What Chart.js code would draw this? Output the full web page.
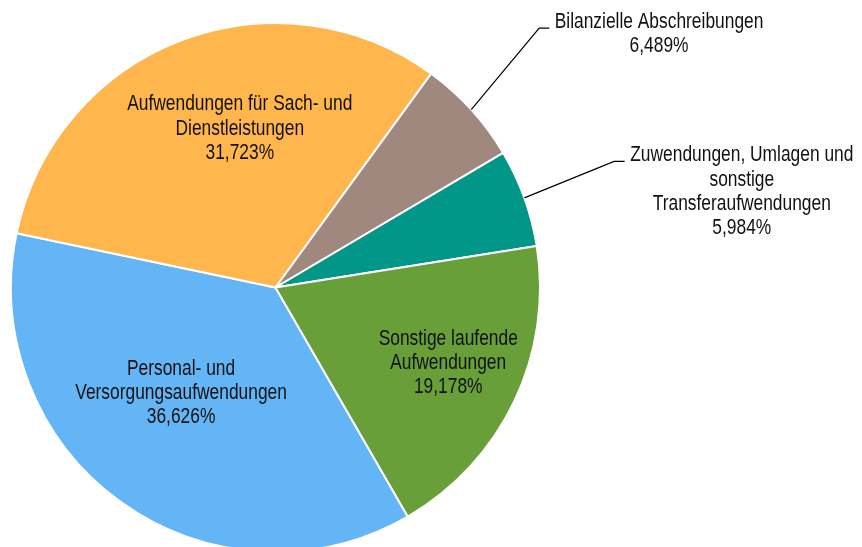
<!DOCTYPE html>
<html>
<head>
<meta charset="utf-8">
<script src="https://cdn.jsdelivr.net/npm/chart.js@4/dist/chart.umd.min.js"></script>
<style>
  html, body { margin: 0; padding: 0; background: #fff; overflow: hidden; }
  #wrap { position: relative; width: 862px; height: 560px; }
</style>
</head>
<body>
<div id="wrap"><canvas id="c"></canvas></div>
<script>
// ---- data ----
const categories = [
  "Personal- und Versorgungsaufwendungen",
  "Aufwendungen für Sach- und Dienstleistungen",
  "Bilanzielle Abschreibungen",
  "Zuwendungen, Umlagen und sonstige Transferaufwendungen",
  "Sonstige laufende Aufwendungen"
];
const shares = [36.626, 31.723, 6.489, 5.984, 19.178];
const labelLines = [
  ["Personal- und", "Versorgungsaufwendungen"],
  ["Aufwendungen für Sach- und", "Dienstleistungen"],
  ["Bilanzielle Abschreibungen"],
  ["Zuwendungen, Umlagen und", "sonstige", "Transferaufwendungen"],
  ["Sonstige laufende", "Aufwendungen"]
];
const colors = ["#64B5F6", "#FFB74D", "#A1887F", "#009688", "#689F38"];

// label placement (relative to pie centre, in units of radius)
const labelPlacement = [
  { inside: true, dx: -0.357, dy: 0.399 },
  { inside: true, dx: -0.135, dy: -0.601 },
  { inside: false, dx: 1.450, dy: -0.959, elbowX: 0.997, elbowY: -0.981, endX: 1.035 },
  { inside: false, dx: 1.763, dy: -0.362, elbowX: 1.280, elbowY: -0.477, endX: 1.320 },
  { inside: true, dx: 0.653, dy: 0.285 }
];

const FONT = '22px "Liberation Sans", Arial, sans-serif';
const NARROW = 0.79;
const LINE_H = 24.3;

function fmt(v) {
  return v.toFixed(3).replace('.', ',') + '%';
}

const labelPlugin = {
  id: 'pieLabels',
  afterDatasetsDraw(chart) {
    const ctx = chart.ctx;
    const meta = chart.getDatasetMeta(0);
    meta.data.forEach((arc, i) => {
      const p = arc.getProps(['x', 'y', 'outerRadius', 'startAngle', 'endAngle'], true);
      const R = p.outerRadius;
      const pl = labelPlacement[i];
      const lines = labelLines[i].concat([fmt(shares[i])]);
      const cx = p.x + pl.dx * R;
      const cy = p.y + pl.dy * R;
      ctx.save();
      if (!pl.inside) {
        const mid = (p.startAngle + p.endAngle) / 2;
        const sx = p.x + Math.cos(mid) * R;
        const sy = p.y + Math.sin(mid) * R;
        ctx.beginPath();
        ctx.strokeStyle = '#000';
        ctx.lineWidth = 1.2;
        ctx.moveTo(sx, sy);
        ctx.lineTo(p.x + pl.elbowX * R, p.y + pl.elbowY * R);
        ctx.lineTo(p.x + pl.endX * R, p.y + pl.elbowY * R);
        ctx.stroke();
      }
      ctx.font = FONT;
      ctx.fillStyle = '#111';
      ctx.textAlign = 'center';
      ctx.textBaseline = 'middle';
      const top = cy - (lines.length - 1) * LINE_H / 2;
      lines.forEach((t, k) => {
        ctx.save();
        ctx.translate(cx, top + k * LINE_H);
        ctx.scale(NARROW, 1);
        ctx.fillText(t, 0, 0);
        ctx.restore();
      });
      ctx.restore();
    });
  }
};

new Chart(document.getElementById('c'), {
  type: 'pie',
  data: {
    labels: categories,
    datasets: [{
      data: shares,
      backgroundColor: colors,
      borderColor: '#ffffff',
      borderWidth: 2
    }]
  },
  options: {
    responsive: true,
    maintainAspectRatio: false,
    animation: false,
    rotation: 150,
    layout: { padding: { left: 10, right: 321, top: 22, bottom: 7 } },
    plugins: {
      legend: { display: false },
      tooltip: { enabled: false }
    }
  },
  plugins: [labelPlugin]
});
</script>
</body>
</html>
